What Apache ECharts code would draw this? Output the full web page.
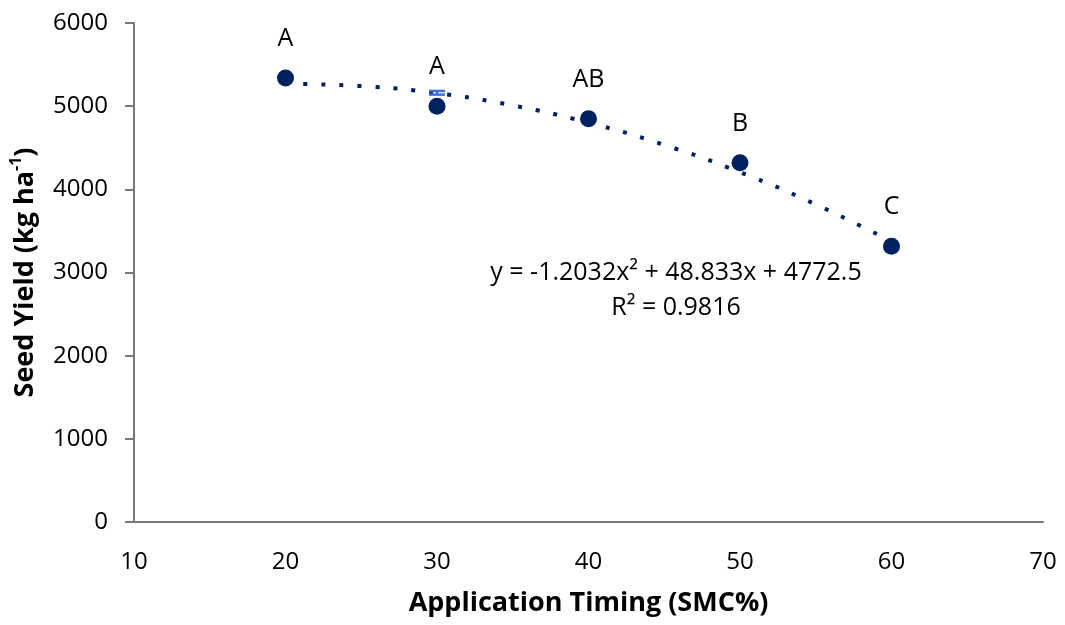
<!DOCTYPE html>
<html>
<head>
<meta charset="utf-8">
<script src="https://cdn.jsdelivr.net/npm/echarts@6/dist/echarts.min.js"></script>
<style>
html,body{margin:0;padding:0;background:#fff;}
#chart{width:1065px;height:625px;}
</style>
</head>
<body>
<div id="chart"></div>
<script>
// Data
const timing = [20, 30, 40, 50, 60];
const seedYield = [5340, 5000, 4850, 4320, 3315];
const letters = ['A', 'A', 'AB', 'B', 'C'];
// error bar (as drawn, at x = 30)
const errX = [30];
const errLow = [5139];
const errHigh = [5183];
// dotted quadratic trendline
const trendX = [20, 25, 30, 35, 40, 45, 50, 55, 60];
const trendY = [5268, 5241, 5155, 5008, 4801, 4534, 4206, 3819, 3371];
const xTicks = [10, 20, 30, 40, 50, 60, 70];
const yTicks = [0, 1000, 2000, 3000, 4000, 5000, 6000];

const FONT = '"Open Sans", "Liberation Sans", sans-serif';
const NAVY = '#002060';

const chart = echarts.init(document.getElementById('chart'), null, {renderer: 'canvas'});

chart.setOption({
  animation: false,
  backgroundColor: '#ffffff',
  textStyle: {fontFamily: FONT},
  grid: {left: 132, right: 22, top: 23, bottom: 98, containLabel: false},
  xAxis: {
    type: 'value',
    min: xTicks[0], max: xTicks[xTicks.length - 1], interval: 10,
    name: 'Application Timing (SMC%)',
    nameLocation: 'middle', nameGap: 64,
    nameTextStyle: {fontFamily: FONT, fontSize: 27, fontWeight: 'bold', color: '#000', lineHeight: 34},
    axisLine: {show: true, onZero: false, lineStyle: {color: '#787878', width: 2}},
    axisTick: {show: false},
    splitLine: {show: false},
    axisLabel: {fontFamily: FONT, fontSize: 24, color: '#000', margin: 28,
      formatter: function (v) { return String(v); }}
  },
  yAxis: {
    type: 'value',
    min: yTicks[0], max: yTicks[yTicks.length - 1], interval: 1000,
    name: '{b|Seed Yield (kg ha}{s|-1}{b|)}',
    nameLocation: 'middle', nameGap: 92,
    nameTextStyle: {
      rich: {
        b: {fontFamily: FONT, fontSize: 27, fontWeight: 'bold', color: '#000', lineHeight: 34},
        s: {fontFamily: FONT, fontSize: 16, fontWeight: 'bold', color: '#000', lineHeight: 16, verticalAlign: 'top'}
      }
    },
    axisLine: {show: true, lineStyle: {color: '#787878', width: 2}},
    axisTick: {show: true, inside: false, length: 9, lineStyle: {color: '#787878', width: 2}},
    splitLine: {show: false},
    axisLabel: {fontFamily: FONT, fontSize: 24, color: '#000', margin: 26,
      formatter: function (v) { return String(v); }}
  },
  series: [
    {
      type: 'line',
      name: 'trend',
      data: trendX.map((x, i) => [x, trendY[i]]),
      smooth: true,
      showSymbol: false,
      symbol: 'none',
      lineStyle: {color: NAVY, width: 4, type: [4, 14], cap: 'butt'},
      z: 2,
      silent: true
    },
    {
      type: 'custom',
      name: 'error',
      data: errX.map((x, i) => [x, errLow[i], errHigh[i]]),
      renderItem: function (params, api) {
        const lo = api.coord([api.value(0), api.value(1)]);
        const hi = api.coord([api.value(0), api.value(2)]);
        const hw = 8;
        const st = {stroke: '#3b6fd6', lineWidth: 2.5};
        return {
          type: 'group',
          children: [
            {type: 'line', shape: {x1: lo[0], y1: lo[1], x2: hi[0], y2: hi[1]}, style: st},
            {type: 'line', shape: {x1: lo[0] - hw, y1: lo[1], x2: lo[0] + hw, y2: lo[1]}, style: st},
            {type: 'line', shape: {x1: hi[0] - hw, y1: hi[1], x2: hi[0] + hw, y2: hi[1]}, style: st}
          ]
        };
      },
      z: 3,
      silent: true
    },
    {
      type: 'scatter',
      name: 'yield',
      data: timing.map((x, i) => [x, seedYield[i]]),
      symbol: 'circle',
      symbolSize: 17,
      itemStyle: {color: NAVY, opacity: 1},
      label: {
        show: true,
        position: 'top',
        distance: 18,
        fontFamily: FONT,
        fontSize: 25,
        color: '#000',
        formatter: function (p) { return letters[p.dataIndex]; }
      },
      z: 4
    }
  ],
  graphic: [
    {
      type: 'text',
      x: 676,
      y: 255,
      style: {
        text: 'y = -1.2032x\u00B2 + 48.833x + 4772.5\nR\u00B2 = 0.9816',
        font: '25px ' + FONT,
        fill: '#000',
        align: 'center',
        textAlign: 'center',
        verticalAlign: 'top',
        lineHeight: 35
      }
    }
  ]
});
</script>
</body>
</html>
